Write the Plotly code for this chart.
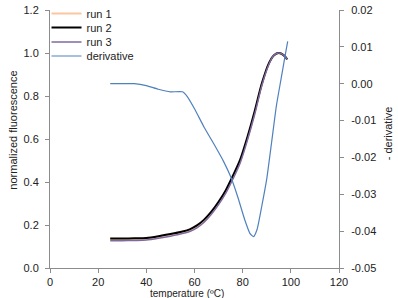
import plotly.graph_objects as go

# temperatures (ºC) for the fluorescence runs
temp_runs = [25, 30, 35, 40, 45, 50, 55, 58, 61, 64, 67, 70, 73, 76, 79, 82, 85, 88, 91, 93, 95, 97, 98.5]
run1 = [0.134, 0.134, 0.135, 0.137, 0.144, 0.154, 0.166, 0.176, 0.193, 0.219, 0.256, 0.301, 0.355, 0.422, 0.497, 0.602, 0.722, 0.855, 0.953, 0.990, 1.000, 0.990, 0.970]
run2 = [0.137, 0.137, 0.138, 0.140, 0.148, 0.158, 0.170, 0.180, 0.198, 0.225, 0.262, 0.308, 0.362, 0.430, 0.505, 0.610, 0.730, 0.860, 0.955, 0.990, 1.000, 0.990, 0.970]
run3 = [0.127, 0.127, 0.128, 0.130, 0.138, 0.148, 0.160, 0.170, 0.187, 0.213, 0.250, 0.295, 0.348, 0.415, 0.490, 0.595, 0.715, 0.850, 0.950, 0.990, 1.000, 0.990, 0.970]

# derivative series
temp_deriv = [25, 30, 35, 40, 45, 50, 55, 57, 60, 64, 68, 72, 75, 78, 81, 83, 84.5, 86, 88, 90, 92, 94, 96, 98, 98.7]
deriv = [0.0, 0.0, 0.0, -0.0005, -0.0015, -0.0022, -0.0022, -0.0035, -0.0068, -0.0118, -0.0163, -0.0210, -0.0252, -0.0308, -0.0372, -0.0406, -0.0415, -0.0395, -0.0330, -0.0258, -0.0160, -0.0060, 0.0015, 0.0090, 0.0115]

left_tickvals = [0, 0.2, 0.4, 0.6, 0.8, 1.0, 1.2]
x_tickvals = [0, 20, 40, 60, 80, 100, 120]
right_tickvals = [0.02, 0.01, 0.0, -0.01, -0.02, -0.03, -0.04, -0.05]
right_ticktext = ["0.02", "0.01", "0.00", "-0.01", "-0.02", "-0.03", "-0.04", "-0.05"]

font = "Liberation Sans, Arial, sans-serif"
axis_col = "#8c8c8c"
txt_col = "#222222"

# plot area in pixels
L, R, T, B = 49.5, 339.5, 10, 268
W, H = 398, 298

fig = go.Figure()
fig.add_trace(go.Scatter(x=temp_runs, y=run1, name="run 1", mode="lines", legend="legend",
                         line=dict(color="#F9C6A0", width=2, shape="spline", smoothing=0.8)))
fig.add_trace(go.Scatter(x=temp_runs, y=run2, name="run 2", mode="lines", legend="legend2",
                         line=dict(color="#000000", width=2, shape="spline", smoothing=0.8)))
fig.add_trace(go.Scatter(x=temp_runs, y=run3, name="run 3", mode="lines", legend="legend3",
                         line=dict(color="#7F6A9E", width=1.5, shape="spline", smoothing=0.8)))
fig.add_trace(go.Scatter(x=temp_deriv, y=deriv, name="derivative", mode="lines", yaxis="y2", legend="legend4",
                         line=dict(color="#4F81BD", width=1.2, shape="spline", smoothing=0.5)))

def py(p):
    return (B - p) / (B - T)

def px(p):
    return (p - L) / (R - L)

leg_common = dict(xanchor="left", yanchor="middle", bgcolor="rgba(0,0,0,0)",
                  font=dict(size=11, color=txt_col), itemwidth=30, tracegroupgap=0)
leg_x = px(46)

fig.update_layout(
    width=W, height=H,
    margin=dict(l=L, r=W - R, t=T, b=H - B, autoexpand=False),
    paper_bgcolor="white", plot_bgcolor="white",
    font=dict(family=font, size=11, color=txt_col),
    xaxis=dict(range=[0, 120], tickvals=x_tickvals, automargin=False,
               showgrid=False, zeroline=False, showline=True, linecolor=axis_col, linewidth=1,
               ticks="outside", ticklen=4, tickcolor=axis_col, ticklabelstandoff=0),
    yaxis=dict(range=[0, 1.2], tickvals=left_tickvals, tickformat=".1f", automargin=False,
               showgrid=False, zeroline=False, showline=True, linecolor=axis_col, linewidth=1,
               ticks="outside", ticklen=4, tickcolor=axis_col, ticklabelstandoff=4),
    yaxis2=dict(range=[-0.05, 0.02], overlaying="y", side="right", automargin=False,
                tickvals=right_tickvals, ticktext=right_ticktext,
                showgrid=False, zeroline=False, showline=True, linecolor=axis_col, linewidth=1,
                ticks="outside", ticklen=4, tickcolor=axis_col, ticklabelstandoff=5),
    legend=dict(x=leg_x, y=py(13.5), **leg_common),
    legend2=dict(x=leg_x, y=py(27.5), **leg_common),
    legend3=dict(x=leg_x, y=py(42), **leg_common),
    legend4=dict(x=leg_x, y=py(56), **leg_common),
    showlegend=True,
    annotations=[
        dict(text="temperature (ºC)", xref="paper", yref="paper", x=px(187), y=py(293.5),
             xanchor="center", yanchor="middle", showarrow=False, font=dict(size=10, color=txt_col)),
        dict(text="normalized fluorescence", xref="paper", yref="paper", x=px(12), y=py(130),
             xanchor="center", yanchor="middle", showarrow=False, textangle=-90,
             font=dict(size=11, color=txt_col)),
        dict(text="- derivative", xref="paper", yref="paper", x=px(389), y=py(133),
             xanchor="center", yanchor="middle", showarrow=False, textangle=-90,
             font=dict(size=11, color=txt_col)),
    ],
)

fig.write_html("out.html")
